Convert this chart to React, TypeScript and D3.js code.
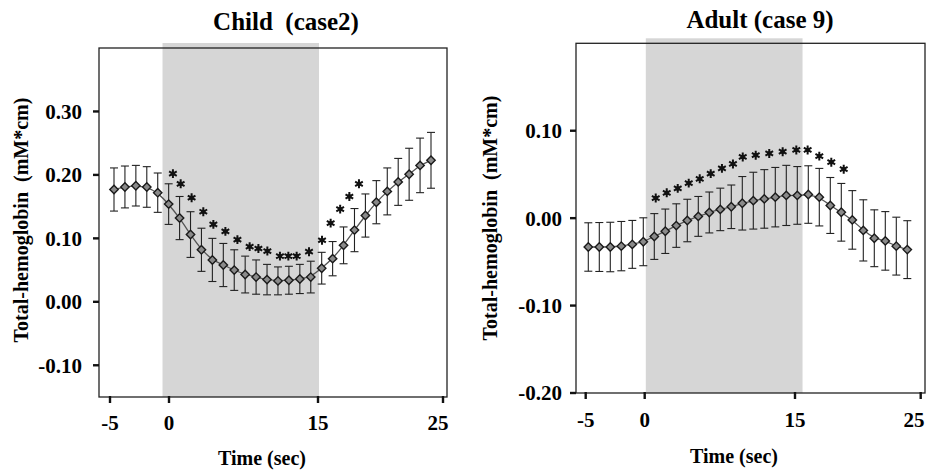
import React from "react";
import * as d3 from "d3";

// ---- data ----
const timeSec = [-5, -4, -3, -2, -1, 0, 1, 2, 3, 4, 5, 6, 7, 8, 9, 10, 11, 12, 13, 14, 15, 16, 17, 18, 19, 20, 21, 22, 23, 24];
const xTickValues = [-5, 0, 15, 25];

const childMean = [0.177, 0.181, 0.183, 0.181, 0.172, 0.154, 0.132, 0.106, 0.082, 0.066, 0.058, 0.050, 0.043, 0.039, 0.035, 0.033, 0.034, 0.036, 0.039, 0.053, 0.068, 0.089, 0.113, 0.136, 0.157, 0.174, 0.189, 0.201, 0.215, 0.223];
const childErr = [0.034, 0.033, 0.032, 0.032, 0.031, 0.032, 0.034, 0.036, 0.034, 0.034, 0.034, 0.032, 0.029, 0.027, 0.024, 0.022, 0.022, 0.023, 0.025, 0.025, 0.027, 0.029, 0.034, 0.034, 0.034, 0.037, 0.037, 0.041, 0.043, 0.044];
const childStarT = [0.39, 1.10, 2.10, 3.17, 4.09, 5.19, 6.29, 7.41, 8.21, 9.03, 10.18, 10.95, 11.71, 12.84, 14.03, 14.82, 15.69, 16.53, 17.41];
const childStarV = [0.202, 0.186, 0.164, 0.142, 0.122, 0.111, 0.098, 0.087, 0.084, 0.080, 0.072, 0.072, 0.072, 0.079, 0.097, 0.124, 0.146, 0.166, 0.186];
const childYTicks = [-0.1, 0.0, 0.1, 0.2, 0.3];

const adultMean = [-0.033, -0.033, -0.033, -0.032, -0.030, -0.027, -0.021, -0.015, -0.0085, -0.0027, 0.002, 0.0065, 0.010, 0.013, 0.017, 0.020, 0.022, 0.024, 0.026, 0.026, 0.027, 0.024, 0.0145, 0.0067, -0.002, -0.014, -0.023, -0.026, -0.032, -0.036];
const adultErr = [0.0277, 0.028, 0.0283, 0.0282, 0.0274, 0.0274, 0.0262, 0.0254, 0.0249, 0.0243, 0.0228, 0.0234, 0.0243, 0.0249, 0.0306, 0.0325, 0.0335, 0.034, 0.0344, 0.033, 0.0329, 0.0329, 0.032, 0.033, 0.0335, 0.035, 0.0325, 0.0335, 0.0331, 0.0331];
const adultStarT = [1.13, 2.13, 3.13, 4.13, 5.13, 6.13, 7.15, 8.15, 9.04, 10.22, 11.45, 12.67, 13.91, 14.94, 16.0, 17.09, 18.22];
const adultStarV = [0.023, 0.029, 0.034, 0.040, 0.045, 0.051, 0.057, 0.062, 0.070, 0.072, 0.074, 0.076, 0.078, 0.078, 0.071, 0.064, 0.056];
const adultYTicks = [-0.2, -0.1, 0.0, 0.1];

const childStim = [-0.55, 15.08];
const adultStim = [0.11, 15.6];

const FONT = "'Liberation Serif', 'Times New Roman', serif";

type PanelProps = {
  title: string;
  titleX: number; titleY: number;
  x0: number; x1: number; y0: number; y1: number;
  yDomain: [number, number];
  yTicks: number[];
  axisRange: number[];
  pointRange: [number, number];
  stim: number[];
  mean: number[]; err: number[];
  starT: number[]; starV: number[];
  yLabelX: number; yLabelY: number;
  xLabelX: number; xLabelY: number;
  tickLabelY: number; yTickLabelGap: number; labelMaxX: number;
};

function Panel(p: PanelProps) {
  const y = d3.scaleLinear().domain(p.yDomain).range([p.y1, p.y0]);
  const xAxis = d3.scaleLinear().domain(xTickValues).range(p.axisRange);
  const xPt = d3.scaleLinear().domain([timeSec[0], timeSec[timeSec.length - 1]]).range(p.pointRange);
  const pts = timeSec.map((t, i) => ({ t, v: p.mean[i], e: p.err[i] }));
  const line = d3.line<{ t: number; v: number }>().x(d => xPt(d.t)).y(d => y(d.v)).curve(d3.curveBasis);
  const star = d3.symbol().type(d3.symbolAsterisk).size(55);
  const f2 = d3.format(".2f");
  const fmt = (v: number) => f2(v).replace("\u2212", "-");
  const dm = 4.2;
  return (
    <g>
      <text x={p.titleX} y={p.titleY} textAnchor="middle" fontFamily={FONT} fontWeight="bold" fontSize={25} style={{ whiteSpace: "pre" }}>{p.title}</text>
      <rect x={xAxis(p.stim[0])} y={p.y0 - 5} width={xAxis(p.stim[1]) - xAxis(p.stim[0])} height={p.y1 - p.y0 + 5} fill="#d6d6d6" />
      <rect x={p.x0} y={p.y0} width={p.x1 - p.x0} height={p.y1 - p.y0} fill="none" stroke="#222" strokeWidth={1.3} />
      {/* y ticks */}
      {p.yTicks.map(v => (
        <g key={"yt" + v}>
          <line x1={p.x0 - 6} x2={p.x0} y1={y(v)} y2={y(v)} stroke="#111" strokeWidth={2.4} />
          <text x={p.x0 - p.yTickLabelGap} y={y(v)} dy="0.35em" textAnchor="end" fontFamily={FONT} fontWeight="bold" fontSize={21}>{fmt(v)}</text>
        </g>
      ))}
      {/* x ticks */}
      {xTickValues.map(t => (
        <g key={"xt" + t}>
          <line x1={xAxis(t)} x2={xAxis(t)} y1={p.y1 - 1} y2={p.y1 + 6} stroke="#111" strokeWidth={2.4} />
          <text x={Math.min(xAxis(t), p.labelMaxX)} y={p.tickLabelY} textAnchor="middle" fontFamily={FONT} fontWeight="bold" fontSize={21}>{t}</text>
        </g>
      ))}
      {/* fitted curve */}
      <path d={line(pts) || ""} fill="none" stroke="#555" strokeWidth={1.3} />
      {/* error bars */}
      {pts.map(d => {
        const cx = xPt(d.t);
        return (
          <g key={"e" + d.t} stroke="#222" strokeWidth={1.1}>
            <line x1={cx} x2={cx} y1={y(d.v + d.e)} y2={y(d.v - d.e)} />
            <line x1={cx - 4} x2={cx + 4} y1={y(d.v + d.e)} y2={y(d.v + d.e)} />
            <line x1={cx - 4} x2={cx + 4} y1={y(d.v - d.e)} y2={y(d.v - d.e)} />
          </g>
        );
      })}
      {/* diamonds */}
      {pts.map(d => {
        const cx = xPt(d.t), cy = y(d.v);
        return (
          <polygon key={"d" + d.t} points={`${cx},${cy - dm} ${cx + dm},${cy} ${cx},${cy + dm} ${cx - dm},${cy}`} fill="#8a8a8a" stroke="#1a1a1a" strokeWidth={1.4} />
        );
      })}
      {/* significance asterisks */}
      {p.starT.map((t, i) => (
        <g key={"s" + i} transform={`translate(${xPt(t)},${y(p.starV[i])})`}>
          <circle r={2.2} fill="#111" />
          <path d={star() || ""} fill="none" stroke="#111" strokeWidth={2} />
        </g>
      ))}
      <text transform={`translate(${p.yLabelX},${p.yLabelY}) rotate(-90)`} textAnchor="middle" fontFamily={FONT} fontWeight="bold" fontSize={20} style={{ whiteSpace: "pre" }}>Total-hemoglobin  (mM*cm)</text>
      <text x={p.xLabelX} y={p.xLabelY} textAnchor="middle" fontFamily={FONT} fontWeight="bold" fontSize={20}>Time (sec)</text>
    </g>
  );
}

export default function App() {
  return (
    <svg width={929} height={474} style={{ position: "absolute", left: 0, top: 0, background: "#fff" }}>
      <rect x={0} y={0} width={929} height={474} fill="#fff" />
      <Panel
        title="Child  (case2)" titleX={286} titleY={30}
        x0={99} x1={447} y0={48} y1={397}
        yDomain={[-0.15, 0.40]} yTicks={childYTicks}
        axisRange={[110, 169, 318, 443]} pointRange={[114, 431]}
        stim={childStim} mean={childMean} err={childErr}
        starT={childStarT} starV={childStarV}
        yLabelX={28} yLabelY={220} xLabelX={262} xLabelY={465}
        tickLabelY={430} yTickLabelGap={17} labelMaxX={438}
      />
      <Panel
        title="Adult (case 9)" titleX={760} titleY={28}
        x0={576} x1={925} y0={43.3} y1={393}
        yDomain={[-0.2, 0.2]} yTicks={adultYTicks}
        axisRange={[585.7, 644.7, 795, 920.7]} pointRange={[588.3, 907.3]}
        stim={adultStim} mean={adultMean} err={adultErr}
        starT={adultStarT} starV={adultStarV}
        yLabelX={497} yLabelY={218} xLabelX={734} xLabelY={463}
        tickLabelY={427} yTickLabelGap={14} labelMaxX={914}
      />
    </svg>
  );
}
